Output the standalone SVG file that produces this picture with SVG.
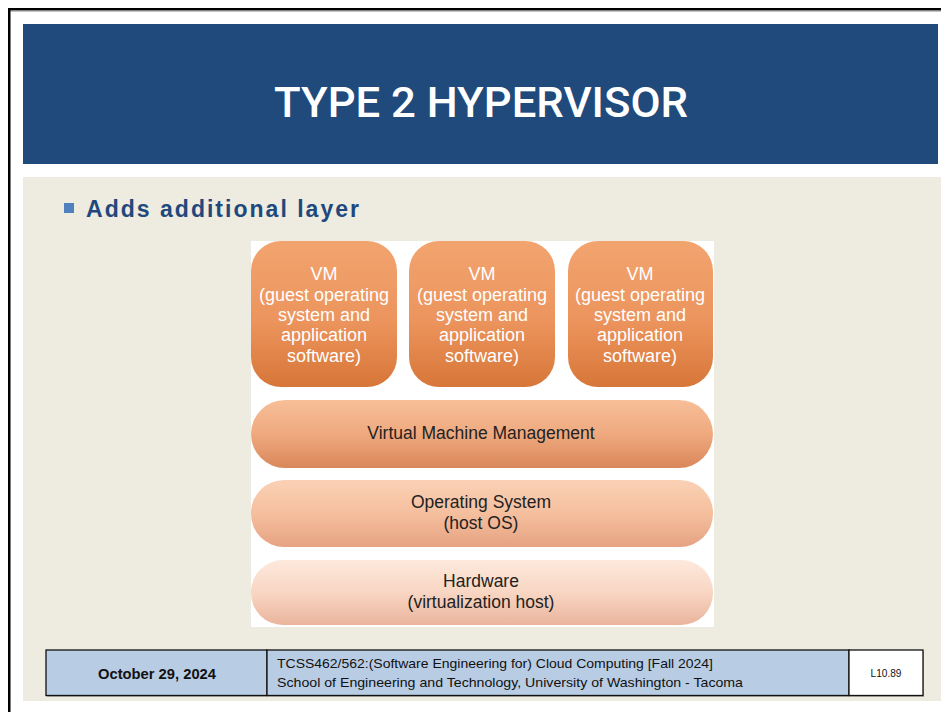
<svg xmlns="http://www.w3.org/2000/svg" width="941" height="712" viewBox="0 0 941 712">
<defs>
<style>
.vm{font-family:"Liberation Sans",Arial,sans-serif;font-size:18px;fill:#ffffff;text-anchor:middle}
.bar{font-family:"Liberation Sans",Arial,sans-serif;font-size:17.5px;fill:#222222;text-anchor:middle}
.ft{font-family:"Liberation Sans",Arial,sans-serif;fill:#111111}
.cell{stroke:#111111;stroke-width:1.3}
</style>
<linearGradient id="gVM" x1="0" y1="0" x2="0" y2="1">
<stop offset="0" stop-color="#f2a46f"/>
<stop offset="0.55" stop-color="#ec945d"/>
<stop offset="1" stop-color="#d77638"/>
</linearGradient>
<linearGradient id="gVMM" x1="0" y1="0" x2="0" y2="1">
<stop offset="0" stop-color="#f7bf98"/>
<stop offset="0.5" stop-color="#efa97f"/>
<stop offset="1" stop-color="#d9875a"/>
</linearGradient>
<linearGradient id="gOS" x1="0" y1="0" x2="0" y2="1">
<stop offset="0" stop-color="#fad1b5"/>
<stop offset="0.5" stop-color="#f5bf9e"/>
<stop offset="1" stop-color="#e6a282"/>
</linearGradient>
<linearGradient id="gHW" x1="0" y1="0" x2="0" y2="1">
<stop offset="0" stop-color="#fde9dc"/>
<stop offset="0.5" stop-color="#f8d6c3"/>
<stop offset="1" stop-color="#eab49c"/>
</linearGradient>
</defs>
<rect x="0" y="0" width="941" height="712" fill="#ffffff"/>
<rect x="8" y="8" width="933" height="2.5" fill="#000000"/>
<rect x="8" y="10.5" width="933" height="1" fill="#888888"/>
<rect x="8" y="8" width="2.5" height="704" fill="#000000"/>
<rect x="23" y="24" width="915" height="140" fill="#204a7b"/>
<text x="481" y="117" font-family="Roboto,'Liberation Sans',Arial,sans-serif" font-size="43" font-weight="500" fill="#ffffff" text-anchor="middle" textLength="414" lengthAdjust="spacingAndGlyphs">TYPE 2 HYPERVISOR</text>
<rect x="23" y="177" width="918" height="524" fill="#eeebe0"/>
<rect x="64" y="203" width="10" height="10" fill="#4f81bd"/>
<text x="86" y="217" font-family="'Liberation Sans',Arial,sans-serif" font-size="23" font-weight="bold" fill="#1f497d" textLength="273" lengthAdjust="spacing">Adds additional layer</text>
<rect x="251" y="241" width="463" height="386" fill="#ffffff"/>
<g id="vm1">
<rect x="251" y="241" width="146" height="146" rx="30" fill="url(#gVM)"/>
<text class="vm" x="324" y="280">VM</text>
<text class="vm" x="324" y="301">(guest operating</text>
<text class="vm" x="324" y="321">system and</text>
<text class="vm" x="324" y="341">application</text>
<text class="vm" x="324" y="362">software)</text>
</g>
<g id="vm2">
<rect x="409" y="241" width="146" height="146" rx="30" fill="url(#gVM)"/>
<text class="vm" x="482" y="280">VM</text>
<text class="vm" x="482" y="301">(guest operating</text>
<text class="vm" x="482" y="321">system and</text>
<text class="vm" x="482" y="341">application</text>
<text class="vm" x="482" y="362">software)</text>
</g>
<g id="vm3">
<rect x="568" y="241" width="145" height="146" rx="30" fill="url(#gVM)"/>
<text class="vm" x="640" y="280">VM</text>
<text class="vm" x="640" y="301">(guest operating</text>
<text class="vm" x="640" y="321">system and</text>
<text class="vm" x="640" y="341">application</text>
<text class="vm" x="640" y="362">software)</text>
</g>
<g id="vmm">
<rect x="251" y="400" width="462" height="68" rx="34" fill="url(#gVMM)"/>
<text class="bar" x="481" y="439">Virtual Machine Management</text>
</g>
<g id="os">
<rect x="251" y="480" width="462" height="67" rx="33" fill="url(#gOS)"/>
<text class="bar" x="481" y="508">Operating System</text>
<text class="bar" x="481" y="529">(host OS)</text>
</g>
<g id="hw">
<rect x="251" y="560" width="462" height="65" rx="32" fill="url(#gHW)"/>
<text class="bar" x="481" y="587">Hardware</text>
<text class="bar" x="481" y="608">(virtualization host)</text>
</g>
<g id="connectors"/>
<g id="footer">
<rect x="47" y="651" width="877" height="46" fill="#777777" opacity="0.5"/>
<rect class="cell" x="46" y="650" width="221" height="45.5" fill="#b8cce4"/>
<rect class="cell" x="267" y="650" width="582" height="45.5" fill="#b8cce4"/>
<rect class="cell" x="849" y="650" width="74" height="45.5" fill="#ffffff"/>
<text class="ft" x="157" y="679" font-size="14" font-weight="bold" text-anchor="middle" textLength="118" lengthAdjust="spacingAndGlyphs">October 29, 2024</text>
<text class="ft" x="277" y="668" font-size="13" textLength="436" lengthAdjust="spacingAndGlyphs">TCSS462/562:(Software Engineering for) Cloud Computing [Fall 2024]</text>
<text class="ft" x="277" y="687" font-size="13" textLength="466" lengthAdjust="spacingAndGlyphs">School of Engineering and Technology, University of Washington - Tacoma</text>
<text class="ft" x="886" y="677" font-size="11" text-anchor="middle" textLength="31" lengthAdjust="spacingAndGlyphs">L10.89</text>
</g>
</svg>
